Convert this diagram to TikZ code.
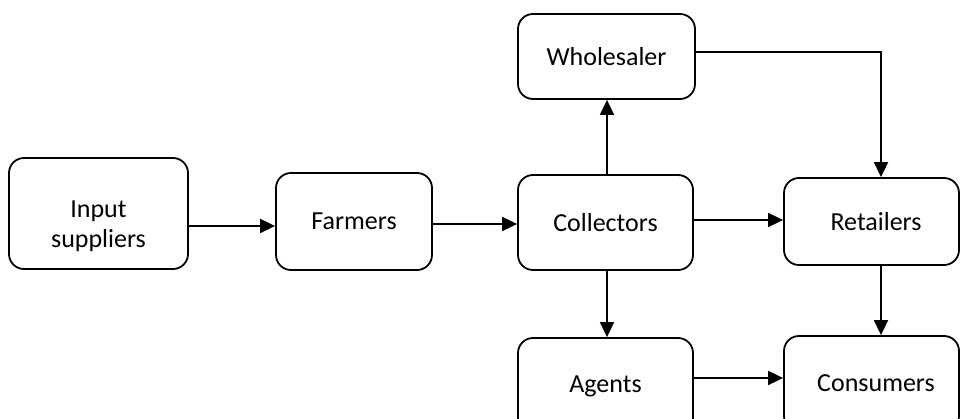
\documentclass[tikz,border=0pt]{standalone}
\usepackage{fontspec}
\setmainfont{Carlito}
\usetikzlibrary{arrows.meta}
\begin{document}
\begin{tikzpicture}[x=1pt,y=-1pt,
  box/.style={draw=black, line width=1.8pt, rounded corners=15pt, align=center, inner sep=0pt,
    font=\fontsize{26}{30}\selectfont},
  arr/.style={line width=1.8pt, -{Triangle[length=15pt,width=14pt]}}]
\useasboundingbox (0,0) rectangle (961,419);
\fill[white] (0,0) rectangle (961,419);
\clip (0,0) rectangle (961,419);
\node[box, minimum width=179pt, minimum height=111pt,
  label={[font=\fontsize{26}{30}\selectfont, align=center, yshift=-13pt]center:Input\\suppliers}] (input) at (98.5,213.5) {};
\node[box, minimum width=156pt, minimum height=97pt] (farmers) at (354,221.5) {Farmers};
\node[box, minimum width=175pt, minimum height=95pt] (collectors) at (605.5,222.5) {Collectors};
\node[box, minimum width=177pt, minimum height=85pt] (wholesaler) at (606.5,56.5) {Wholesaler};
\node[box, minimum width=175pt, minimum height=87pt] (retailers) at (871.5,221.5) {\hspace*{9pt}Retailers};
\node[box, minimum width=175pt, minimum height=96pt] (agents) at (605.5,386) {Agents};
\node[box, minimum width=175pt, minimum height=95pt] (consumers) at (871.5,383.5) {\hspace*{9pt}Consumers};
\coordinate (h1) at (0,226);
\coordinate (h2) at (0,224);
\coordinate (h3) at (0,220);
\coordinate (h4) at (0,378);
\coordinate (h5) at (0,52);
\coordinate (v1) at (607,0);
\coordinate (v2) at (881,0);
\coordinate (corner) at (881,52);
\draw[arr] (input.east |- h1) -- (farmers.west |- h1);
\draw[arr] (farmers.east |- h2) -- (collectors.west |- h2);
\draw[arr] (collectors.east |- h3) -- (retailers.west |- h3);
\draw[arr] (agents.east |- h4) -- (consumers.west |- h4);
\draw[arr] (collectors.north -| v1) -- (wholesaler.south -| v1);
\draw[arr] (collectors.south -| v1) -- (agents.north -| v1);
\draw[arr] (wholesaler.east |- h5) -- (corner) -- (retailers.north -| v2);
\draw[arr] (retailers.south -| v2) -- (consumers.north -| v2);
\end{tikzpicture}
\end{document}
